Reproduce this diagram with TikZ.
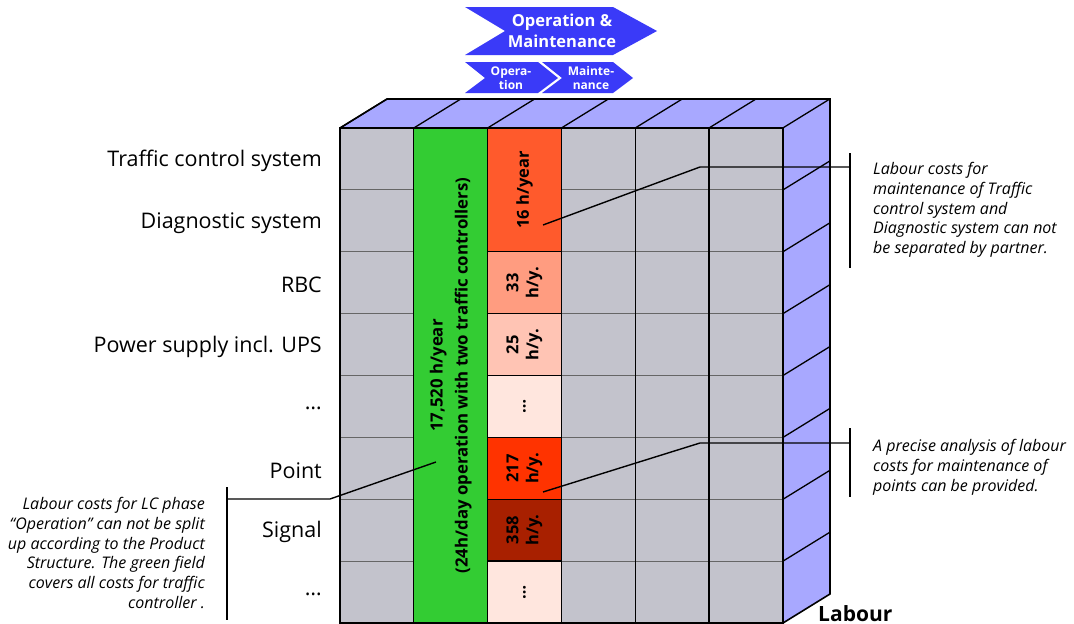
\documentclass[tikz,border=0pt]{standalone}
\usepackage{fontspec}
\setmainfont{Open Sans}
\usetikzlibrary{positioning,calc}
\definecolor{cellGrey}{HTML}{C3C3CC}
\definecolor{faceBlue}{HTML}{A8A8FF}
\definecolor{chevBlue}{HTML}{3A3AF8}
\definecolor{opGreen}{HTML}{33CC33}
\definecolor{mtHigh}{HTML}{FF5A2C}
\definecolor{mtMid}{HTML}{FF9C80}
\definecolor{mtLow}{HTML}{FFC4B4}
\definecolor{mtNone}{HTML}{FFE6DE}
\definecolor{mtPoint}{HTML}{FF3300}
\definecolor{mtSignal}{HTML}{A82000}

\begin{document}
\begin{tikzpicture}[x=1pt,y=-1pt,
    greycell/.style={rectangle, fill=cellGrey, draw=black!60, line width=0.9pt,
      minimum width=73.8pt, minimum height=61.875pt, inner sep=0pt, outer sep=0pt},
    mtcell/.style={rectangle, rotate=90, draw=black, line width=1.3pt, align=center,
      font=\fontsize{16.5pt}{20pt}\selectfont\bfseries, inner sep=0pt, outer sep=0pt,
      minimum width=61.875pt, minimum height=73.8pt},
    rowlabel/.style={anchor=east, font=\fontsize{21.5pt}{24pt}\selectfont, inner sep=0pt},
    note/.style={font=\fontsize{16pt}{19.8pt}\selectfont\itshape, inner sep=0pt},
    edge/.style={draw=black, line width=1.3pt},
    calloutline/.style={draw=black, line width=1.4pt},
    chevtext/.style={text=white, align=center, inner sep=0pt}
  ]
  \useasboundingbox (0,0) rectangle (1074,624);

  % top and right faces
  \fill[faceBlue] (340,128) -- (387,99) -- (830,99) -- (783,128) -- cycle;
  \fill[faceBlue] (783,128) -- (830,99) -- (830,594) -- (783,623) -- cycle;
  \foreach \c in {0,...,6}
    \draw[edge] ({340+73.8*\c},128) -- ++(47,-29);
  \foreach \r in {1,...,7}
    \draw[edge] (783,{128+61.875*\r}) -- ++(47,-29);
  \draw[edge, line width=1.6pt] (340,128) -- (387,99) -- (830,99) -- (830,594) -- (783,623);

  % front grid
  \foreach \c in {0,3,4,5}
    \foreach \r in {0,...,7}
      \node[greycell] (g-\c-\r) at ({340+73.8*(\c+0.5)},{128+61.875*(\r+0.5)}) {};
  \foreach \c in {1,4,5,6}
    \draw[edge] ({340+73.8*\c},128) -- ({340+73.8*\c},623);

  % operation column
  \node[mtcell, fill=opGreen, minimum width=495pt, font=\fontsize{16.8pt}{25pt}\selectfont\bfseries]
    (oper) at (450.7,375.5) {17,520 h/year\\(24h/day operation with two traffic controllers)};

  % maintenance column
  \node[mtcell, fill=mtHigh, minimum width=123.75pt] (m-tcs) at (524.5,189.9) {16 h/year};
  \node[mtcell, fill=mtMid] (m-rbc) at (524.5,282.7) {33\\h/y.};
  \node[mtcell, fill=mtLow] (m-pow) at (524.5,344.6) {25\\h/y.};
  \node[mtcell, fill=mtNone] (m-dots1) at (524.5,406.4) {\dots};
  \node[mtcell, fill=mtPoint] (m-pnt) at (524.5,468.3) {217\\h/y.};
  \node[mtcell, fill=mtSignal] (m-sig) at (524.5,530.1) {358\\h/y.};
  \node[mtcell, fill=mtNone] (m-dots2) at (524.5,592.0) {\dots};

  \draw[edge, line width=1.6pt] (340,128) rectangle (783,623);

  % product structure
  \foreach \t [count=\i from 0] in {Traffic control system, Diagnostic system, RBC,
      Power supply incl. UPS, \dots, Point, Signal, \dots}
    \node[rowlabel] (lab-\i) at (322,{130+61.875*(\i+0.5)}) {\t};

  \node[anchor=base west, inner sep=0pt, font=\fontsize{21pt}{24pt}\selectfont\bfseries]
    (labour) at (818,621) {Labour};

  % life cycle phases
  \fill[chevBlue] (465,7) -- (613,7) -- (657,31) -- (613,55) -- (465,55) -- (505,31) -- cycle;
  \node[chevtext, font=\fontsize{16.5pt}{20.5pt}\selectfont\bfseries] (om) at (562,31) {Operation \&\\Maintenance};
  \fill[chevBlue] (465,62) -- (538,62) -- (558,78) -- (538,93) -- (465,93) -- (485,78) -- cycle;
  \fill[chevBlue] (542,62) -- (613,62) -- (633,78) -- (613,93) -- (542,93) -- (562,78) -- cycle;
  \node[chevtext, font=\fontsize{12pt}{14pt}\selectfont\bfseries] (op) at (511,78) {Opera-\\tion};
  \node[chevtext, font=\fontsize{12pt}{14pt}\selectfont\bfseries] (mt) at (591,78) {Mainte-\\nance};

  % callouts
  \coordinate (pA) at (543,225);
  \coordinate (kA) at (700,167);
  \coordinate (bA1) at (850,153);
  \coordinate (bA2) at (850,268);
  \draw[calloutline] (pA) -- (kA) -- (kA -| bA1);
  \draw[calloutline] (bA1) -- (bA2);
  \node[note, anchor=north west, align=left] (noteA) at (873,162)
    {Labour costs for\\maintenance of Traffic\\control system and\\Diagnostic system can not\\be separated by partner.};

  \coordinate (pB) at (543,492);
  \coordinate (kB) at (700,443);
  \coordinate (bB1) at (850,428);
  \coordinate (bB2) at (850,497);
  \draw[calloutline] (pB) -- (kB) -- (kB -| bB1);
  \draw[calloutline] (bB1) -- (bB2);
  \node[note, anchor=north west, align=left] (noteB) at (873,439)
    {A precise analysis of labour\\costs for maintenance of\\points can be provided.};

  \coordinate (pC) at (436,462);
  \coordinate (kC) at (330,499);
  \coordinate (bC1) at (227,487);
  \coordinate (bC2) at (227,620);
  \draw[calloutline] (pC) -- (kC) -- (kC -| bC1);
  \draw[calloutline] (bC1) -- (bC2);
  \node[note, anchor=north east, align=right] (noteC) at (205,497)
    {Labour costs for LC phase\\``Operation'' can not be split\\up according to the Product\\Structure. The green field\\covers all costs for traffic\\controller .};
\end{tikzpicture}
\end{document}
